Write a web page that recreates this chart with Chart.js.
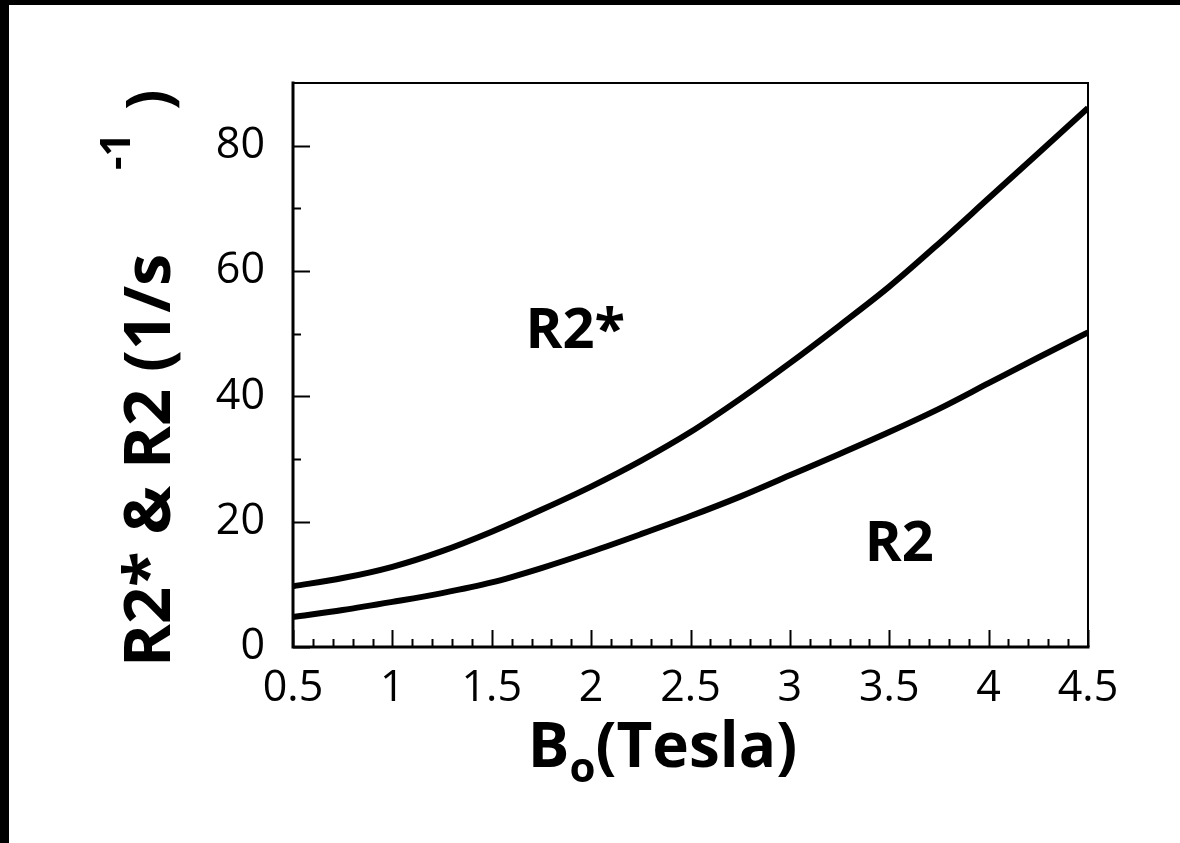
<!DOCTYPE html>
<html>
<head>
<meta charset="utf-8">
<style>
    html, body { margin: 0; padding: 0; background: #fff; }
    #frame {
        position: absolute; left: 0; top: 0;
        width: 1180px; height: 843px;
        box-sizing: border-box;
        border-top: 5px solid #000;
        border-left: 9px solid #000;
        background: #fff;
    }
</style>
<script src="https://cdn.jsdelivr.net/npm/chart.js@4.4.0/dist/chart.umd.min.js"></script>
</head>
<body>
<div id="frame">
    <canvas id="field-chart" width="1171" height="838"></canvas>
</div>
<script>
// field strength (Tesla) and relaxation rates (1/s)
const field_tesla = [0.5, 0.75, 1.0, 1.25, 1.5, 1.75, 2.0, 2.25, 2.5, 2.75, 3.0, 3.25, 3.5, 3.75, 4.0, 4.25, 4.5];
const r2_star = [9.7, 11.0, 12.8, 15.3, 18.4, 21.9, 25.6, 29.7, 34.3, 39.6, 45.3, 51.3, 57.5, 64.4, 71.6, 78.8, 86.0];
const r2_values = [4.8, 5.9, 7.2, 8.6, 10.3, 12.6, 15.2, 18.0, 20.9, 24.0, 27.4, 30.8, 34.3, 38.0, 42.1, 46.2, 50.2];

const x_ticks = [0.5, 1, 1.5, 2, 2.5, 3, 3.5, 4, 4.5];
const y_ticks = [0, 20, 40, 60, 80];

// curve labels inside the plot: [text, x, y] in data units
const curve_labels = [["R2*", 1.92, 50.3], ["R2", 3.55, 16.3]];

const label_font = '"Open Sans", "DejaVu Sans", sans-serif';

function minorSteps(min, max, step) {
    const out = [];
    for (let v = min; v <= max + 1e-9; v += step) out.push(Math.round(v * 100) / 100);
    return out;
}

const framePlugin = {
    id: "frame",
    afterDraw(chart) {
        const ctx = chart.ctx;
        const ca = chart.chartArea;
        const xs = chart.scales.x;
        const ys = chart.scales.y;
        ctx.save();
        ctx.strokeStyle = "#000";
        ctx.lineCap = "square";

        // box: heavier on left/bottom
        ctx.lineWidth = 2;
        ctx.beginPath();
        ctx.moveTo(ca.left, ca.top);
        ctx.lineTo(ca.right, ca.top);
        ctx.lineTo(ca.right, ca.bottom);
        ctx.stroke();
        ctx.lineWidth = 3;
        ctx.beginPath();
        ctx.moveTo(ca.left, ca.top);
        ctx.lineTo(ca.left, ca.bottom);
        ctx.lineTo(ca.right, ca.bottom);
        ctx.stroke();

        // inward ticks
        ctx.lineWidth = 2;
        ctx.lineCap = "butt";
        minorSteps(0.5, 4.5, 0.1).forEach(v => {
            const major = Math.abs(v * 2 - Math.round(v * 2)) < 1e-6;
            const px = Math.round(xs.getPixelForValue(v)) + 0.5;
            ctx.beginPath();
            ctx.moveTo(px, ca.bottom);
            ctx.lineTo(px, ca.bottom - (major ? 17 : 8));
            ctx.stroke();
        });
        minorSteps(0, 80, 10).forEach(v => {
            const major = v % 20 === 0;
            const py = Math.round(ys.getPixelForValue(v)) + 0.5;
            ctx.beginPath();
            ctx.moveTo(ca.left, py);
            ctx.lineTo(ca.left + (major ? 17 : 8), py);
            ctx.stroke();
        });

        ctx.fillStyle = "#000";

        // curve labels
        ctx.font = "bold 56px " + label_font;
        ctx.textAlign = "center";
        ctx.textBaseline = "middle";
        curve_labels.forEach(([txt, x, y]) => {
            ctx.fillText(txt, xs.getPixelForValue(x), ys.getPixelForValue(y));
        });

        // y axis title, rotated, with superscript -1
        ctx.save();
        ctx.translate(ca.left - 123, ca.bottom + 20);
        ctx.rotate(-Math.PI / 2);
        ctx.textAlign = "left";
        ctx.textBaseline = "alphabetic";
        ctx.font = "bold 65px " + label_font;
        ctx.fillText("R2* & R2 (1/s", 0, 0);
        ctx.font = "bold 42px " + label_font;
        ctx.fillText("-1", 497, -40);
        ctx.font = "bold 60px " + label_font;
        ctx.fillText(")", 557, 0);
        ctx.restore();

        // x axis title with subscript o
        ctx.textAlign = "left";
        ctx.textBaseline = "alphabetic";
        const big = "bold 62px " + label_font;
        const small = "bold 42px " + label_font;
        ctx.font = big;
        const wB = ctx.measureText("B").width;
        const wRest = ctx.measureText("(Tesla)").width;
        ctx.font = small;
        const wO = ctx.measureText("o").width;
        const total = wB + wO + wRest;
        const x0 = (ca.left + ca.right) / 2 - 28 - total / 2;
        const base = ca.bottom + 120;
        ctx.font = big;
        ctx.fillText("B", x0, base);
        ctx.font = small;
        ctx.fillText("o", x0 + wB, base + 15);
        ctx.font = big;
        ctx.fillText("(Tesla)", x0 + wB + wO, base);

        ctx.restore();
    }
};

function makeSeries(values) {
    return {
        data: field_tesla.map((b, i) => ({ x: b, y: values[i] })),
        borderColor: "#000",
        borderWidth: 6,
        pointRadius: 0,
        fill: false,
        cubicInterpolationMode: "monotone"
    };
}

const config = {
    type: "line",
    data: {
        datasets: [makeSeries(r2_star), makeSeries(r2_values)]
    },
    options: {
        responsive: false,
        animation: false,
        layout: {
            padding: { top: 78, right: 92, left: 0, bottom: 0 }
        },
        plugins: {
            legend: { display: false },
            tooltip: { enabled: false }
        },
        scales: {
            x: {
                type: "linear",
                min: 0.5,
                max: 4.5,
                grid: { display: false },
                border: { display: false },
                afterBuildTicks: (scale) => { scale.ticks = x_ticks.map(v => ({ value: v })); },
                afterFit: (scale) => { scale.height = 196; },
                ticks: {
                    color: "#000",
                    padding: 8,
                    font: { family: label_font, size: 43 },
                    callback: (v) => String(v)
                }
            },
            y: {
                min: 0,
                max: 90,
                grid: { display: false },
                border: { display: false },
                afterBuildTicks: (scale) => { scale.ticks = y_ticks.map(v => ({ value: v })); },
                afterFit: (scale) => { scale.width = 284; },
                ticks: {
                    color: "#000",
                    padding: 20,
                    font: { family: label_font, size: 43 }
                }
            }
        }
    },
    plugins: [framePlugin]
};

const ctx = document.getElementById("field-chart").getContext("2d");
const field_chart = new Chart(ctx, config);
</script>
</body>
</html>
